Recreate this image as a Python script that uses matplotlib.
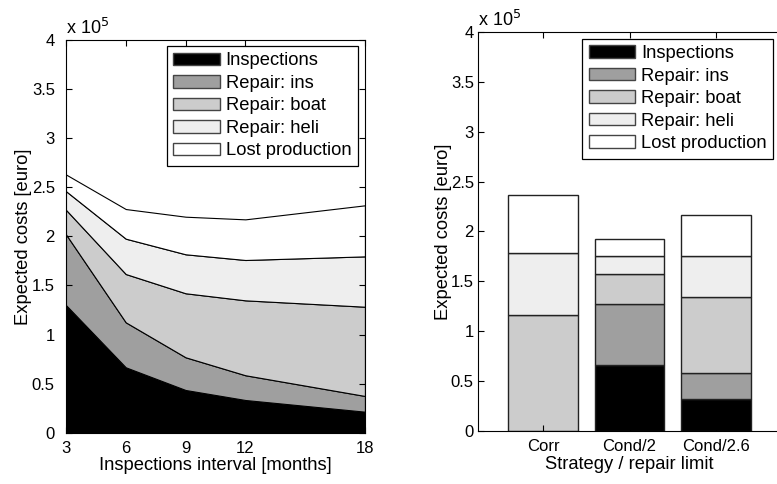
import numpy as np
import matplotlib
matplotlib.use('Agg')
import matplotlib.pyplot as plt
from matplotlib.patches import Patch
from matplotlib.ticker import FuncFormatter

plt.rcParams['font.family'] = ['Liberation Sans', 'DejaVu Sans']
plt.rcParams['font.size'] = 12

# costs in euro
intervals = [3, 6, 9, 12, 18]
insp_int = [130000, 66600, 43500, 33300, 21400]
ins_int = [72000, 45800, 33300, 25200, 16000]
boat_int = [25000, 49200, 65200, 76300, 90900]
heli_int = [19000, 36000, 39700, 41100, 51300]
lost_int = [17000, 30200, 38300, 41400, 52000]

strategies = ['Corr', 'Cond/2', 'Cond/2.6']
insp_str = [0, 66200, 32100]
ins_str = [0, 61100, 25700]
boat_str = [116300, 29800, 76200]
heli_str = [61800, 18000, 41100]
lost_str = [58500, 17700, 41400]

labels = ['Inspections', 'Repair: ins', 'Repair: boat', 'Repair: heli', 'Lost production']
colors = ['#000000', '#9f9f9f', '#cccccc', '#eeeeee', '#ffffff']

fig = plt.figure(figsize=(7.77, 4.84), dpi=100)
ax1 = fig.add_axes([0.0849, 0.106, 0.3848, 0.8114])
ax2 = fig.add_axes([0.6152, 0.1095, 0.390, 0.8244])

fmt = FuncFormatter(lambda v, p: ('%g' % (v / 1e5)))

# left: stacked areas
series = [insp_int, ins_int, boat_int, heli_int, lost_int]
ax1.stackplot(intervals, *series, colors=colors, edgecolor='black', linewidth=0.8)
ax1.set_xlim(3, 18)
ax1.set_xticks(intervals)
ax1.set_xlabel('Inspections interval [months]', fontsize=13.2, labelpad=1)

# right: stacked bars
pos = np.arange(1, len(strategies) + 1)
bottom = np.zeros(len(strategies))
for vals, c in zip([insp_str, ins_str, boat_str, heli_str, lost_str], colors):
    ax2.bar(pos, vals, 0.8, bottom=bottom, color=c, edgecolor='#222222', linewidth=1)
    bottom += np.array(vals)
ax2.set_xlim(0.25, 3.75)
ax2.set_xticks(pos)
ax2.set_xticklabels(strategies)
ax2.set_xlabel('Strategy / repair limit', fontsize=13.2, labelpad=1)

handles = [Patch(facecolor=c, edgecolor='#444444') for c in colors]
setup = [(ax1, (0.9756, 0.9847), 8, -0.1137, True),
         (ax2, (0.9736, 0.9832), 3, -0.0858, False)]
for ax, anchor, ypad, ylab_x, right in setup:
    ax.set_ylim(0, 400000)
    ax.set_yticks(np.arange(0, 400001, 50000))
    ax.yaxis.set_major_formatter(fmt)
    ax.set_ylabel('Expected costs [euro]', fontsize=13.2)
    ax.yaxis.set_label_coords(ylab_x, 0.5)
    ax.tick_params(direction='in', top=True, right=right, length=4)
    ax.tick_params(axis='x', pad=6)
    ax.tick_params(axis='y', pad=ypad)
    ax.text(0, 1.005, r'x 10$^5$', transform=ax.transAxes, ha='left', va='bottom',
            fontsize=13)
    leg = ax.legend(handles, labels, loc='upper right', bbox_to_anchor=anchor,
                    borderaxespad=0, fancybox=False, framealpha=1, edgecolor='black',
                    fontsize=13.2, handlelength=2.56, handleheight=0.68,
                    handletextpad=0.3, labelspacing=0.3, borderpad=0.35)
    leg.get_frame().set_linewidth(0.9)

fig.savefig('out.png', dpi=100)
